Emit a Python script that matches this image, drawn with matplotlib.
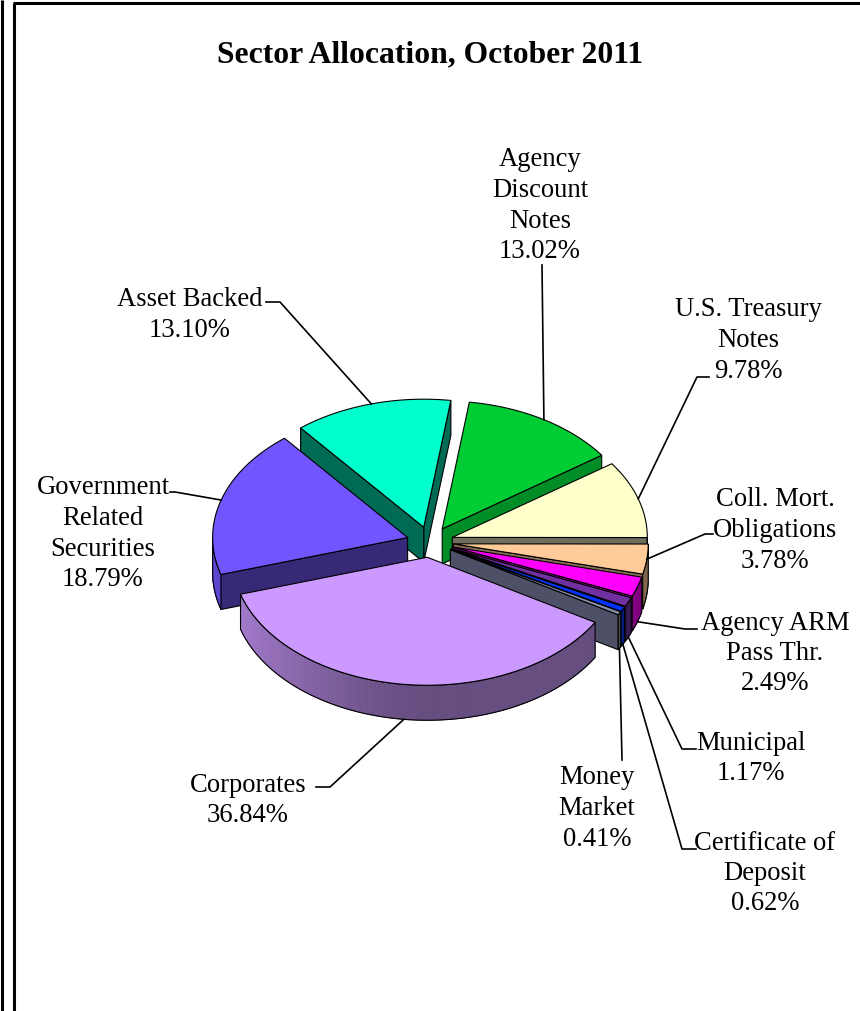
import numpy as np
import matplotlib
matplotlib.use("Agg")
import matplotlib.pyplot as plt
from matplotlib.patches import Polygon
from matplotlib.colors import to_rgb

# ---------------- data ----------------
title = "Sector Allocation, October 2011"
sectors = ["Agency\nDiscount\nNotes", "U.S. Treasury\nNotes", "Coll. Mort.\nObligations",
           "Agency ARM\nPass Thr.", "Municipal", "Certificate of\nDeposit", "Money\nMarket",
           "Corporates", "Government\nRelated\nSecurities", "Asset Backed"]
values = [13.02, 9.78, 3.78, 2.49, 1.17, 0.62, 0.41, 36.84, 18.79, 13.10]

# ---------------- style ----------------
top_colors = ['#00CC33', '#FFFFCC', '#FFCC99', '#FF00FF', '#7030A0', '#0033FF',
              '#8A93AA', '#CC99FF', '#7355FF', '#00FFCC']
face_colors = ['#008C26', '#6E6E5C', '#8A7058', '#880088', '#4A1A70', '#001A99',
               '#4D5066', '#5A4068', '#372878', '#006B55']

CX, CY = 430, 542       # pie centre (pixels)
A, B = 195, 128         # ellipse semi-axes
H = 35                  # thickness
EXPLODE = 0.12
START = 82              # start angle (deg), slices go clockwise

label_pos = [(540, 160), (748, 310), (775, 500), (775, 623), (751, 743),
             (765, 843), (597, 778), (248, 785), (103, 488), (190, 300)]
leader_knee = [(542, 265), (697, 377), (705, 534), (685, 629), (682, 749),
               (682, 849), (622, 760), (330, 787), (175, 492), (280, 302)]
leader_end = [None, (709, 377), (713, 534), (697, 629), (696, 749),
              (696, 849), None, (316, 787), (170, 492), (266, 302)]
anchor_z = [0, 0, 0, 1, 1, 1, 1, 1, 0, 0]
LINE_H = 30.5
FONT = 'Liberation Serif'

fig = plt.figure(figsize=(8.6, 10.11), dpi=100)
ax = fig.add_axes([0, 0, 1, 1])
ax.set_xlim(0, 860)
ax.set_ylim(1011, 0)
ax.axis('off')

# frame
ax.plot([1.5, 1.5], [0, 1011], color='black', lw=2.2, solid_capstyle='butt')
ax.plot([13.7, 13.7], [3.3, 1011], color='black', lw=2.2, solid_capstyle='butt')
ax.plot([12.6, 860], [3.3, 3.3], color='black', lw=2.2, solid_capstyle='butt')

ax.text(430, 55, title, ha='center', va='center', fontsize=22.8,
        fontweight='bold', family=FONT)


def proj(theta, r, z, off):
    t = np.radians(theta)
    return (CX + off[0] + A * r * np.cos(t), CY + off[1] - B * r * np.sin(t) + z)


def shade(rgb, f):
    return tuple(min(1, c * f) for c in rgb)


total = float(sum(values))
cum = np.concatenate([[0], np.cumsum(values)]) / total * 360.0
slices = []
for i in range(len(values)):
    t_hi = START - cum[i]
    t_lo = START - cum[i + 1]
    mid = (t_hi + t_lo) / 2
    m = np.radians(mid)
    off = (EXPLODE * A * np.cos(m), -EXPLODE * B * np.sin(m))
    slices.append((i, t_lo, t_hi, mid, off))

order = sorted(slices, key=lambda s: -np.sin(np.radians(s[3])))
EW = 0.8

for (i, t_lo, t_hi, mid, off) in order:
    top_rgb = to_rgb(top_colors[i])
    # radial faces
    for th, nrm in ((t_lo, t_lo - 90), (t_hi, t_hi + 90)):
        if np.sin(np.radians(nrm)) < 0:
            pts = [proj(th, 0, 0, off), proj(th, 1, 0, off),
                   proj(th, 1, H, off), proj(th, 0, H, off)]
            ax.add_patch(Polygon(pts, closed=True, facecolor=face_colors[i],
                                 edgecolor='black', lw=EW, zorder=2))
    # outer curved side (visible part)
    for k in range(-2, 3):
        lo = max(t_lo, 180 + 360 * k)
        hi = min(t_hi, 360 + 360 * k)
        if hi <= lo:
            continue
        n = max(2, int((hi - lo) * 2) + 1)
        ths = np.linspace(lo, hi, n)
        for a0, a1 in zip(ths[:-1], ths[1:]):
            am = np.radians((a0 + a1) / 2)
            f = 0.5 + 0.32 * max(0.0, -np.cos(am)) ** 1.5
            c = shade(top_rgb, f)
            q = [proj(a0, 1, 0, off), proj(a1, 1, 0, off),
                 proj(a1, 1, H, off), proj(a0, 1, H, off)]
            ax.add_patch(Polygon(q, closed=True, facecolor=c, edgecolor=c,
                                 lw=0.6, zorder=2))
        outline = [proj(t, 1, 0, off) for t in ths] + \
                  [proj(t, 1, H, off) for t in ths[::-1]]
        ax.add_patch(Polygon(outline, closed=True, fill=False,
                             edgecolor='black', lw=EW, zorder=2))
    # top face
    n = max(3, int((t_hi - t_lo) * 2) + 1)
    arc = [proj(t, 1, 0, off) for t in np.linspace(t_lo, t_hi, n)]
    ax.add_patch(Polygon([proj(0, 0, 0, off)] + arc, closed=True,
                         facecolor=top_colors[i], edgecolor='black', lw=EW,
                         zorder=2))

# labels and leader lines
for (i, t_lo, t_hi, mid, off) in slices:
    lines = sectors[i].split("\n") + [f"{values[i]:.2f}%"]
    x0, y0 = label_pos[i]
    for j, ln in enumerate(lines):
        ax.text(x0, y0 + j * LINE_H, ln, ha='center', va='center',
                fontsize=19.2, family=FONT, zorder=5)
    ax_pt = proj(mid, 1, anchor_z[i] * H, off)
    path = [ax_pt, leader_knee[i]]
    if leader_end[i] is not None:
        path.append(leader_end[i])
    xs, ys = zip(*path)
    ax.plot(xs, ys, color='black', lw=1.2, zorder=4)

fig.savefig("out.png", dpi=100)
